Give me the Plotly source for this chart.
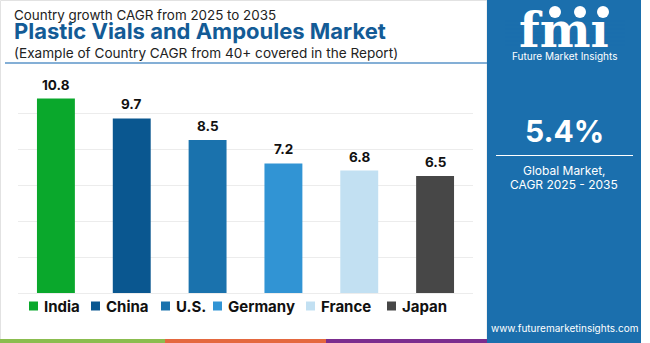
import plotly.graph_objects as go

# ---- data ----
countries = ["India", "China", "U.S.", "Germany", "France", "Japan"]
cagr = [10.8, 9.7, 8.5, 7.2, 6.8, 6.5]
bar_colors = ["#0aa82c", "#0a5790", "#1a72ad", "#3194d4", "#c2e0f2", "#474747"]
global_cagr = "5.4%"

# ---- layout geometry (pixels) ----
WIDTH, HEIGHT = 650, 343
L, R, T, B = 18, 473, 77, 293
PW, PH = R - L, B - T
FONT = "Inter, Open Sans, sans-serif"
PANEL = "#1b6fad"


def px(x):
    return (x - L) / PW


def py(y):
    return (B - y) / PH


fig = go.Figure()
fig.add_trace(go.Bar(
    x=countries, y=cagr, marker=dict(color=bar_colors, line=dict(width=0)),
    width=0.5, showlegend=False, hoverinfo="x+y",
))

annotations = []
# value labels above bars
for c, v in zip(countries, cagr):
    annotations.append(dict(x=c, y=v, xref="x", yref="y", text=f"<b>{v}</b>",
                            showarrow=False, yanchor="middle", yshift=14,
                            font=dict(family=FONT, size=13.5, color="#111")))

# header texts (one block, three lines)
header = ("<span style='font-size:13.4px'>Country growth CAGR from 2025 to 2035</span><br>"
          "<span style='font-size:22px;color:#135b96'><b>Plastic Vials and Ampoules Market</b></span><br>"
          "<span style='font-size:13.6px'>(Example of Country CAGR from 40+ covered in the Report)</span>")
annotations.append(dict(x=px(12), y=py(34), xref="paper", yref="paper", xanchor="left",
                        yanchor="middle", align="left", text=header, showarrow=False,
                        font=dict(family=FONT, size=14.5, color="#222")))

shapes = []
# outer light frame and header rule
shapes.append(dict(type="rect", xref="paper", yref="paper", x0=px(0.5), x1=px(487), y0=py(342.5), y1=py(0.5),
                   line=dict(color="#e2e2e2", width=1), fillcolor="rgba(0,0,0,0)", layer="below"))
shapes.append(dict(type="line", xref="paper", yref="paper", x0=px(5), x1=px(487), y0=py(63), y1=py(63),
                   line=dict(color="#5b95c8", width=1.5)))

# manual legend
legend_sq_x = [29, 91, 161, 213, 306, 387]
legend_y = 306
for c, col, sx in zip(countries, bar_colors, legend_sq_x):
    shapes.append(dict(type="rect", xref="paper", yref="paper", x0=px(sx), x1=px(sx + 9),
                       y0=py(legend_y + 4.5), y1=py(legend_y - 4.5), fillcolor=col, line=dict(width=0)))
    annotations.append(dict(x=px(sx + 13), y=py(legend_y), xref="paper", yref="paper",
                            xanchor="left", yanchor="middle", text=f"<b>{c}</b>", showarrow=False,
                            font=dict(family=FONT, size=15, color="#111")))

# bottom colour stripes
for x0, x1, col in [(0, 165, "#8bbd4f"), (165, 326, "#e4683f"), (326, 487, "#7b2d8e")]:
    shapes.append(dict(type="rect", xref="paper", yref="paper", x0=px(x0), x1=px(x1),
                       y0=py(343), y1=py(339), fillcolor=col, line=dict(width=0)))

# right panel
shapes.append(dict(type="rect", xref="paper", yref="paper", x0=px(487), x1=px(641),
                   y0=py(343), y1=py(0), fillcolor=PANEL, line=dict(width=0)))
shapes.append(dict(type="line", xref="paper", yref="paper", x0=px(496), x1=px(633),
                   y0=py(155.5), y1=py(155.5), line=dict(color="#ffffff", width=1)))
# logo globes
for cx in [555, 580, 603]:
    shapes.append(dict(type="circle", xref="paper", yref="paper", x0=px(cx - 6), x1=px(cx + 6),
                       y0=py(18), y1=py(6), fillcolor="#ffffff", line=dict(width=0)))

cx = 564
annotations += [
    dict(x=px(cx), y=py(30), xref="paper", yref="paper", xanchor="center", yanchor="middle",
         text="<b>fmı</b>", showarrow=False,
         font=dict(family="DejaVu Serif", size=48, color="#ffffff")),
    dict(x=px(cx), y=py(56), xref="paper", yref="paper", xanchor="center", yanchor="middle",
         text="Future Market Insights", showarrow=False,
         font=dict(family=FONT, size=10, color="#ffffff")),
    dict(x=px(cx), y=py(131), xref="paper", yref="paper", xanchor="center", yanchor="middle",
         text=f"<b>{global_cagr}</b>", showarrow=False,
         font=dict(family=FONT, size=30, color="#ffffff")),
    dict(x=px(cx), y=py(170), xref="paper", yref="paper", xanchor="center", yanchor="middle",
         text="Global Market,", showarrow=False,
         font=dict(family=FONT, size=12, color="#ffffff")),
    dict(x=px(cx), y=py(184), xref="paper", yref="paper", xanchor="center", yanchor="middle",
         text="CAGR 2025 - 2035", showarrow=False,
         font=dict(family=FONT, size=12, color="#ffffff")),
    dict(x=px(cx), y=py(328), xref="paper", yref="paper", xanchor="center", yanchor="middle",
         text="www.futuremarketinsights.com", showarrow=False,
         font=dict(family=FONT, size=10, color="#ffffff")),
]

# logo stripes (panel colour lines across letters)
for yy in range(21, 48, 4):
    shapes.append(dict(type="line", xref="paper", yref="paper", x0=px(505), x1=px(625),
                       y0=py(yy), y1=py(yy), line=dict(color=PANEL, width=1)))

fig.update_layout(
    width=WIDTH, height=HEIGHT,
    margin=dict(l=L, r=WIDTH - R, t=T, b=HEIGHT - B, autoexpand=False),
    paper_bgcolor="#ffffff", plot_bgcolor="#ffffff",
    xaxis=dict(showticklabels=False, showgrid=False, zeroline=False, showline=False,
               range=[-0.5, len(countries) - 0.5]),
    yaxis=dict(range=[0, 12], dtick=2, showticklabels=False, showgrid=True,
               gridcolor="#ececec", gridwidth=1, zeroline=True, zerolinecolor="#ececec",
               zerolinewidth=1, showline=False),
    annotations=annotations, shapes=shapes, showlegend=False,
)

fig.write_html("out.html")
